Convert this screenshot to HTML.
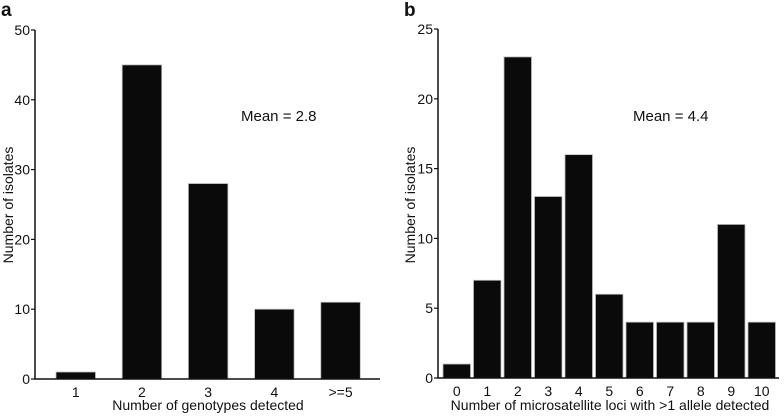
<!DOCTYPE html>
<html><head><meta charset="utf-8"><style>
body{margin:0;background:#fff;}
svg text{font-family:"Liberation Sans",Arial,sans-serif;fill:#111;}
</style></head><body>
<svg width="784" height="413" id="fig"></svg>
<script>
const catsA=["1","2","3","4",">=5"];
const valsA=[1,45,28,10,11];
const ticksA=[0,10,20,30,40,50];
const catsB=["0","1","2","3","4","5","6","7","8","9","10"];
const valsB=[1,7,23,13,16,6,4,4,4,11,4];
const ticksB=[0,5,10,15,20,25];
const NS="http://www.w3.org/2000/svg";
const svg=document.getElementById('fig');
function mk(t,a,p){const e=document.createElementNS(NS,t);for(const k in a)e.setAttribute(k,a[k]);(p||svg).appendChild(e);return e;}
function panel(o){
  const g=mk('g',{});
  
  
  const y=v=>o.y0-(v/o.ymax)*(o.y0-o.y1);
  const x=i=>o.xs+i*o.pitch;
  o.vals.forEach((v,i)=>{
    const r=mk('rect',{x:x(i),y:y(v),width:o.bw,height:o.y0-y(v),fill:'#0a0a0a',stroke:'#bbb','stroke-width':0.8},g);
    
    
    const t=mk('text',{x:x(i)+o.bw/2,y:o.y0+18,'text-anchor':'middle','font-size':14},g);
    t.textContent=o.cats[i];
    
    
  });
  const ax=mk('path',{d:`M${o.ax} ${o.y1}V${o.y0}H${o.xe}`,stroke:'#111','stroke-width':1.5,fill:'none'},g);
  
  
  o.ticks.forEach(v=>{
    mk('line',{x1:o.ax-4,x2:o.ax,y1:y(v),y2:y(v),stroke:'#111','stroke-width':1.2},g);
    const t=mk('text',{x:o.ax-5,y:y(v)+5,'text-anchor':'end','font-size':14},g);
    t.textContent=v;
    
    
  });
  const xt=mk('text',{x:o.xtc,y:410,'text-anchor':'middle','font-size':14},g);
  xt.textContent=o.xtitle;
  
  
  const yt=mk('text',{x:0,y:0,'text-anchor':'middle','font-size':14,transform:`translate(${o.ytx},205) rotate(-90)`},g);
  yt.textContent='Number of isolates';
  
  
  const m=mk('text',{x:o.mx,y:121,'font-size':15},g);
  m.textContent=o.mean;
  
  
  const l=mk('text',{x:o.lx,y:16,'font-size':19,'font-weight':'bold'},g);
  l.textContent=o.label;
  
  
}
panel({name:'panel-a',cats:catsA,vals:valsA,ticks:ticksA,ymax:50,y0:379,y1:30,xs:56,pitch:66.2,bw:39.5,ax:35,xe:380,xtc:208,xtitle:'Number of genotypes detected',ytx:13,mx:241,mean:'Mean = 2.8',label:'a',lx:1});
panel({name:'panel-b',cats:catsB,vals:valsB,ticks:ticksB,ymax:25,y0:378,y1:29,xs:443,pitch:30.5,bw:27.5,ax:438,xe:779,xtc:610,xtitle:'Number of microsatellite loci with >1 allele detected',ytx:415,mx:633,mean:'Mean = 4.4',label:'b',lx:404});
</script>
</body></html>
